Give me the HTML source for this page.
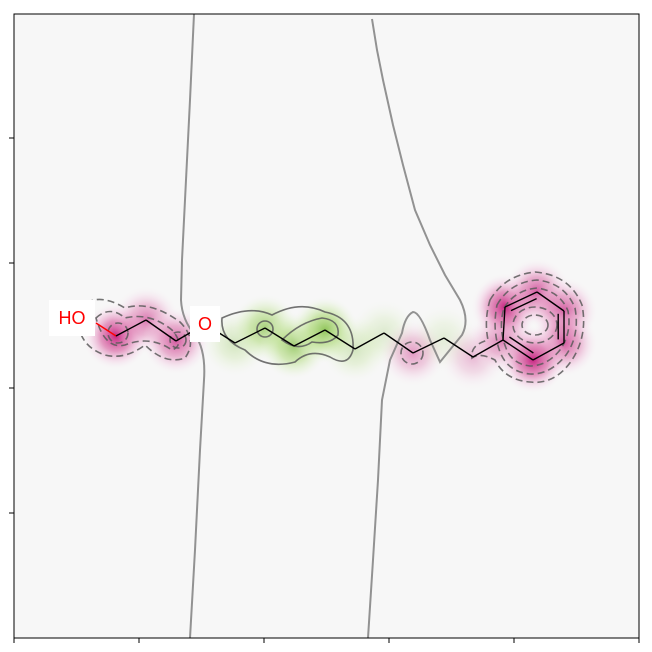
<!DOCTYPE html>
<html><head><meta charset="utf-8"><style>
html,body{margin:0;padding:0;background:#fff;width:652px;height:652px;overflow:hidden}
svg{display:block;font-family:"Liberation Sans",sans-serif}
</style></head><body>
<svg id="chart" width="652" height="652" viewBox="0 0 652 652">
<defs>
<radialGradient id="gm"><stop offset="0" stop-color="#c51b7d" stop-opacity="0.95"/><stop offset="0.45" stop-color="#d6589c" stop-opacity="0.6"/><stop offset="0.75" stop-color="#f1b6da" stop-opacity="0.3"/><stop offset="1" stop-color="#f7f7f7" stop-opacity="0"/></radialGradient>
<radialGradient id="gg"><stop offset="0" stop-color="#7fbc41" stop-opacity="0.9"/><stop offset="0.45" stop-color="#a6d66a" stop-opacity="0.6"/><stop offset="0.75" stop-color="#d0ecb0" stop-opacity="0.3"/><stop offset="1" stop-color="#f7f7f7" stop-opacity="0"/></radialGradient>
<clipPath id="clip"><rect x="14" y="14" width="625" height="624"/></clipPath>
</defs>
<rect x="14" y="14" width="625" height="624" fill="#f7f7f7"/>
<g id="heat" clip-path="url(#clip)"></g>
<g clip-path="url(#clip)" fill="none" stroke="#5a5a5a" stroke-opacity="0.85" stroke-width="1.6">
<path stroke="#808080" stroke-width="2" d="M194,14 L190,100 L185,200 L182,260 L181,300 Q182,320 195,335 Q206,350 204,380 L200,450 L195,550 L190,638"/>
<path stroke="#808080" stroke-width="2" d="M372,19 L377,50 L383,80 L393,125 L403,165 L415,210 L430,245 L445,275 L460,300 Q470,320 462,335 L440,362 L430,340 Q420,312 413,312 Q405,316 402,333 L390,360 L382,400 L378,480 L373,560 L368,638"/>
<path d="M222,318 Q250,305 272,315 Q300,300 325,312 Q355,318 353,350 Q348,368 330,357 Q310,348 295,362 Q265,370 245,350 Q220,340 222,318 Z"/>
<path d="M282,340 Q300,322 322,318 Q340,320 338,335 Q330,345 312,342 Q298,352 282,340 Z"/>
<circle cx="265" cy="329" r="8"/>
<g stroke-dasharray="7,4">
<path d="M78,310 Q95,290 125,308 Q150,300 180,322 Q198,340 185,358 Q165,365 145,345 Q125,360 105,355 Q75,345 78,310 Z"/>
<path d="M96,318 Q110,305 125,318 Q150,312 172,330 Q185,345 172,350 Q150,335 125,345 Q105,350 96,318 Z"/>
<circle cx="118" cy="333" r="10"/>
<circle cx="178" cy="340" r="8"/>
<circle cx="412" cy="353" r="11"/>
<path d="M490,300 Q505,275 535,272 Q570,275 582,305 Q588,335 572,360 Q555,385 530,382 Q505,380 495,360 Q480,352 472,358 Q470,345 488,340 Q484,320 490,300 Z"/>
<path d="M497,305 Q510,282 537,280 Q565,283 575,308 Q580,335 566,355 Q550,375 530,374 Q508,372 500,352 Q492,330 497,305 Z"/>
<path d="M504,308 Q515,290 537,288 Q560,291 568,311 Q572,333 560,350 Q547,366 530,366 Q512,364 506,348 Q498,328 504,308 Z"/>
<ellipse cx="535" cy="325" rx="22" ry="18"/>
<ellipse cx="535" cy="325" rx="13" ry="10"/>
</g>
</g>
<g id="mol"></g>
<rect x="14" y="14" width="625" height="624" fill="none" stroke="#000" stroke-width="1"/>
<g id="ticks"></g>
</svg>
<script>
const atomX=[116,146,176,235,265,294,325,355,384,413,444,473,503,505,537,564,564,533];
const atomY=[336,320,341,343,328,346,330,349,333,353,338,357,340,307,292,311,343,360];
const atomWeight=[-1.0,-0.6,-0.75,0.35,0.75,0.8,0.95,0.35,0.25,-0.45,0.2,-0.3,-0.6,-1.0,-0.75,-0.75,-0.75,-1.0];
const xTicks=[0,1,2,3,4,5];
const yTicks=[1,2,3,4];
const NS="http://www.w3.org/2000/svg";
const heat=document.getElementById('heat');
for(let i=0;i<atomX.length;i++){
  const w=atomWeight[i];
  const c=document.createElementNS(NS,'circle');
  
  
  c.setAttribute('cx',atomX[i]);c.setAttribute('cy',atomY[i]);
  c.setAttribute('r',34);
  c.setAttribute('fill',w<0?'url(#gm)':'url(#gg)');
  c.setAttribute('opacity',Math.min(1,Math.abs(w)));
  heat.appendChild(c);
}
const mol=document.getElementById('mol');
function line(x1,y1,x2,y2,col){
  const l=document.createElementNS(NS,'line');
  
  
  l.setAttribute('x1',x1);l.setAttribute('y1',y1);l.setAttribute('x2',x2);l.setAttribute('y2',y2);
  l.setAttribute('stroke',col||'#000');l.setAttribute('stroke-width','1.4');
  mol.appendChild(l);
}
line(96,323,116,336,'#f00');
for(let i=0;i<12;i++){ if(i===2){line(176,341,205,324);line(205,324,235,343);continue;} line(atomX[i],atomY[i],atomX[i+1],atomY[i+1]); }
for(let i=12;i<18;i++){const j=i===17?12:i+1; line(atomX[i],atomY[i],atomX[j],atomY[j]);}
const cx=535,cy=325;
[[13,14],[15,16],[17,12]].forEach(p=>{const a=p[0],b=p[1];
 const f=0.8;line(cx+(atomX[a]-cx)*f,cy+(atomY[a]-cy)*f,cx+(atomX[b]-cx)*f,cy+(atomY[b]-cy)*f);});
function label(txt,x,y,w){
  const r=document.createElementNS(NS,'rect');
  
  r.setAttribute('x',x-w/2);r.setAttribute('y',y-18);r.setAttribute('width',w);r.setAttribute('height',36);r.setAttribute('fill','#fff');
  mol.appendChild(r);
  const t=document.createElementNS(NS,'text');
  
  t.setAttribute('x',x);t.setAttribute('y',y+6);t.setAttribute('text-anchor','middle');t.setAttribute('fill','#f00');t.setAttribute('font-size','18');
  t.textContent=txt;mol.appendChild(t);
}
label('HO',72,318,46);label('O',205,324,30);
const ticks=document.getElementById('ticks');
xTicks.forEach(v=>{const x=14+v*125;
 const t=document.createElementNS(NS,'line');
 
 t.setAttribute('x1',x);t.setAttribute('x2',x);t.setAttribute('y1',638);t.setAttribute('y2',643);t.setAttribute('stroke','#000');ticks.appendChild(t);});
yTicks.forEach(v=>{const y=13+v*125;
 const t=document.createElementNS(NS,'line');
 
 t.setAttribute('x1',9);t.setAttribute('x2',14);t.setAttribute('y1',y);t.setAttribute('y2',y);t.setAttribute('stroke','#000');ticks.appendChild(t);});
</script>
</body></html>
